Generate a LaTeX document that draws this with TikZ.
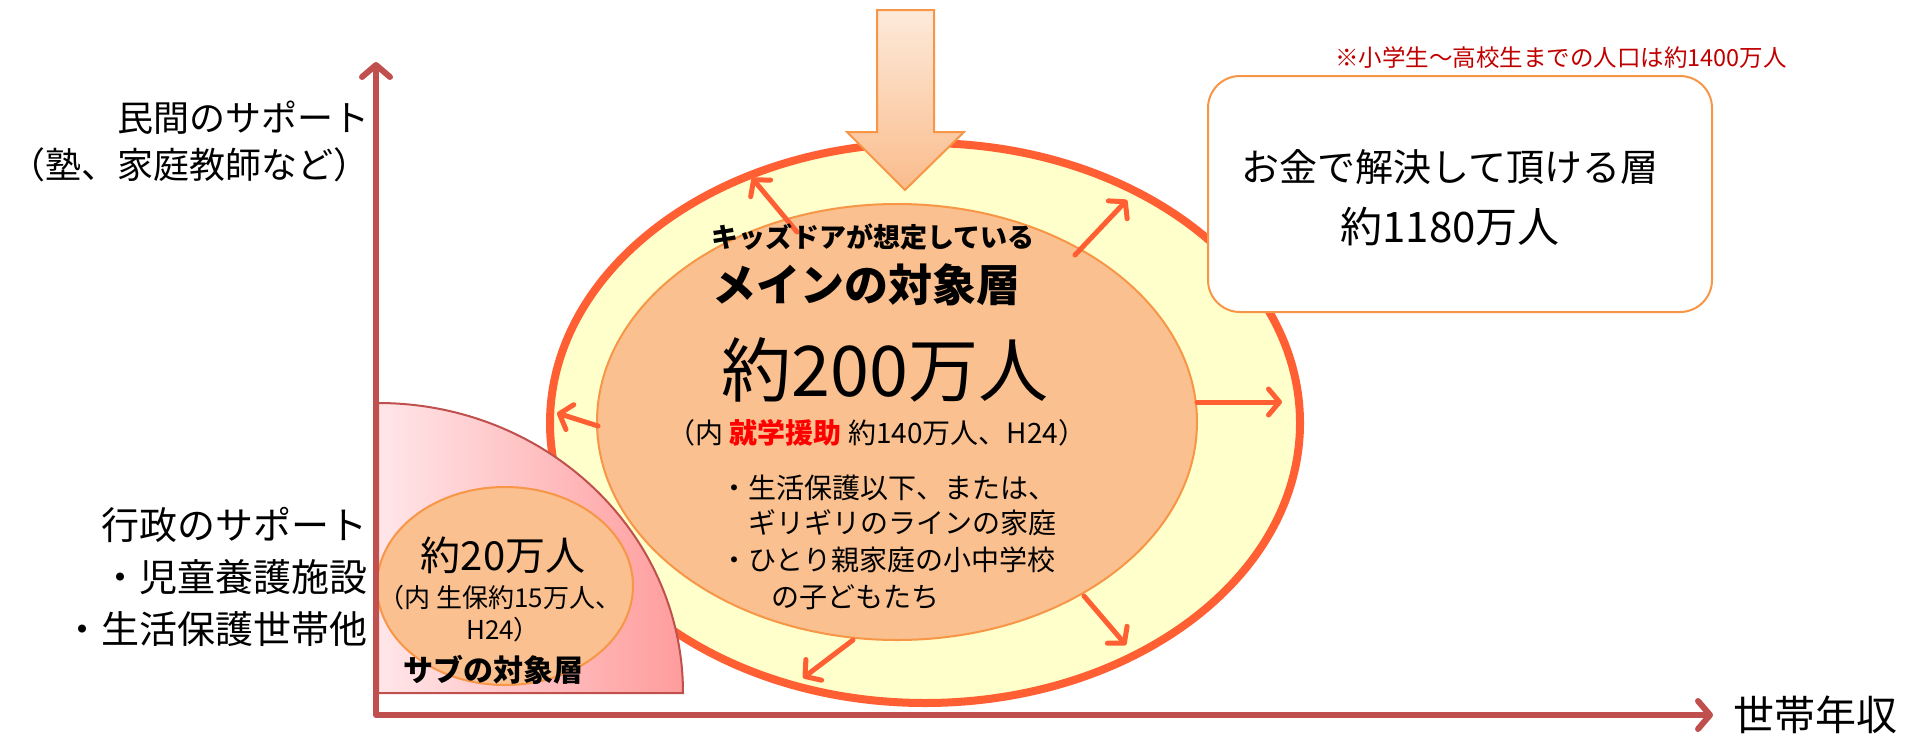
\documentclass[tikz,border=0pt]{standalone}
\usepackage{fontspec}
\setmainfont{Noto Sans CJK JP}
\usetikzlibrary{arrows.meta}
\usetikzlibrary{shapes.geometric}

\definecolor{axisred}{RGB}{192,80,77}
\definecolor{ringred}{RGB}{255,95,51}
\definecolor{paleyellow}{RGB}{255,255,204}
\definecolor{peach}{RGB}{250,192,143}
\definecolor{peachline}{RGB}{247,150,70}
\definecolor{notered}{RGB}{192,0,0}
\definecolor{aidred}{RGB}{255,0,0}
\definecolor{pinklight}{RGB}{255,230,233}
\definecolor{pinkdark}{RGB}{255,156,156}
\definecolor{arrowtop}{RGB}{253,234,218}
\definecolor{arrowbottom}{RGB}{250,188,140}

\newcommand{\jpsize}[2]{\fontsize{#1}{#2}\selectfont}

\begin{document}
\begin{tikzpicture}[x=1pt,y=-1pt,
  txt/.style={inner sep=0pt},
  spread/.style={draw=ringred,line width=5pt,line cap=round,-{Straight Barb[length=11pt,width=26pt,round]}}]

\useasboundingbox (0,0) rectangle (1924,734);

\node[ellipse,draw=ringred,line width=8pt,fill=paleyellow,minimum width=750pt,minimum height=560pt,inner sep=0pt] (ring) at (925,423) {};
\node[ellipse,draw=peachline,line width=2pt,fill=peach,minimum width=600pt,minimum height=436pt,inner sep=0pt] (core) at (897,422) {};

\draw[draw=peachline,line width=2pt,top color=arrowtop,bottom color=arrowbottom] (877,10) -- (934,10) -- (934,132) -- (964,132) -- (905,190) -- (847,132) -- (877,132) -- cycle;

\draw[draw=axisred,line width=2pt,left color=pinklight,right color=pinkdark] (378,693) -- (378,403) arc[start angle=90,end angle=0,x radius=305pt,y radius=290pt] -- cycle;
\node[ellipse,draw=peachline,line width=2pt,fill=peach,minimum width=256pt,minimum height=198pt,inner sep=0pt] (sub) at (505,586) {};

\coordinate (O) at (376,715);
\coordinate (Ytop) at (376,62);
\coordinate (Xend) at (1713,715);
\draw[axisred,line width=6pt,line join=round,{Straight Barb[length=12pt,width=28pt,round]}-{Straight Barb[length=12pt,width=28pt,round]}] (Ytop) -- (O) -- (Xend);

\node[draw=peachline,line width=2pt,fill=white,rounded corners=32pt,minimum width=504pt,minimum height=236pt,inner sep=0pt] (money) at (1460,194) {};

\coordinate (s1) at (797,232);
\coordinate (e1) at (752,178);
\coordinate (s2) at (1075,255);
\coordinate (e2) at (1127,200);
\coordinate (s3) at (598,426);
\coordinate (e3) at (557,413);
\coordinate (s4) at (1197,402);
\coordinate (e4) at (1282,402);
\coordinate (s5) at (853,640);
\coordinate (e5) at (803,678);
\coordinate (s6) at (1084,596);
\coordinate (e6) at (1126,645);
\draw[spread] (s1) -- (e1);
\draw[spread] (s2) -- (e2);
\draw[spread] (s3) -- (e3);
\draw[spread] (s4) -- (e4);
\draw[spread] (s5) -- (e5);
\draw[spread] (s6) -- (e6);

\node[txt,anchor=east,align=right,font=\jpsize{36}{47}] (private) at (370,141) {民間のサポート\\（塾、家庭教師など）};
\node[txt,anchor=east,align=right,font=\jpsize{38}{52}] (public) at (368,577) {行政のサポート\\・児童養護施設\\・生活保護世帯他};
\node[txt,anchor=west,font=\jpsize{41}{48}] (income) at (1733,715) {世帯年収};

\node[txt,anchor=west,font=\bfseries\jpsize{27}{32}] (kidsdoor) at (711,237) {キッズドアが想定している};
\node[txt,anchor=west,font=\bfseries\jpsize{44}{52}] (maintarget) at (712,285) {メインの対象層};
\node[txt,font=\jpsize{70}{80}] (mainnum) at (885,370) {約200万人};
\node[txt,font=\jpsize{28}{34}] (aid) at (877,433) {（内 \textcolor{aidred}{\bfseries 就学援助} 約140万人、H24）};
\node[txt,anchor=west,font=\jpsize{28}{34}] (line1) at (720,488) {・生活保護以下、または、};
\node[txt,anchor=west,font=\jpsize{28}{34}] (line2) at (748,523) {ギリギリのラインの家庭};
\node[txt,anchor=west,font=\jpsize{28}{34}] (line3) at (720,560) {・ひとり親家庭の小中学校};
\node[txt,anchor=west,font=\jpsize{28}{34}] (line4) at (771,597) {の子どもたち};

\node[txt,font=\jpsize{40}{48}] (subnum) at (503,555) {約20万人};
\node[txt,font=\jpsize{26}{32}] (subwelfare) at (500,598) {（内 生保約15万人、};
\node[txt,font=\jpsize{26}{32}] (subyear) at (503,630) {H24）};
\node[txt,font=\bfseries\jpsize{30}{36}] (subtarget) at (493,670) {サブの対象層};

\node[txt,font=\jpsize{38}{46}] (moneytext) at (1450,167) {お金で解決して頂ける層};
\node[txt,font=\jpsize{42}{50}] (moneynum) at (1450,227) {約1180万人};

\node[txt,font=\jpsize{23.5}{28},text=notered] (note) at (1561,58) {※小学生～高校生までの人口は約1400万人};

\end{tikzpicture}
\end{document}
